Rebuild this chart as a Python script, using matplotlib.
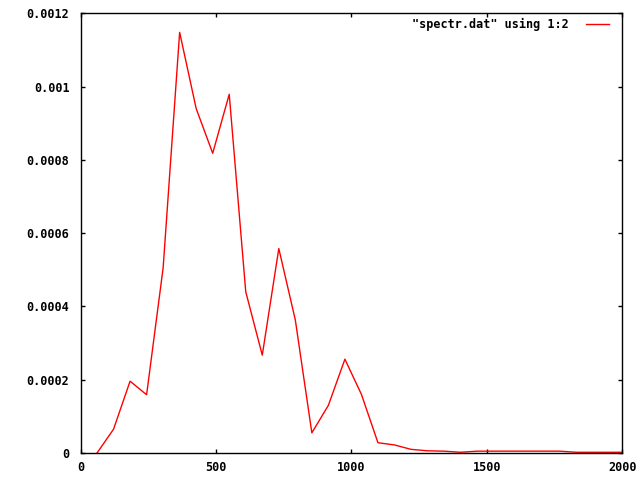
import matplotlib
matplotlib.use("Agg")
import matplotlib.pyplot as plt

# spectrum samples (x step ~61)
freq = [61, 122, 183, 244, 305, 366, 427, 488, 549, 610, 671, 732, 793,
        854, 915, 976, 1037, 1098, 1159, 1220, 1281, 1342, 1403, 1464,
        1525, 1586, 1647, 1708, 1769, 1830, 1891, 1952, 2013]
power = [0.0, 0.000065, 0.000196, 0.000159, 0.000505, 0.001148, 0.00094,
         0.000818, 0.000979, 0.00044, 0.000267, 0.000558, 0.000363,
         0.000055, 0.00013, 0.000256, 0.00016, 0.000028, 0.000022,
         0.00001, 0.000006, 0.000005, 0.000002, 0.000005, 0.000005,
         0.000005, 0.000005, 0.000005, 0.000005, 0.000002, 0.000002,
         0.000002, 0.000002]

x_ticks = [0, 500, 1000, 1500, 2000]
y_ticks = [0, 0.0002, 0.0004, 0.0006, 0.0008, 0.001, 0.0012]
y_tick_labels = ["0", "0.0002", "0.0004", "0.0006", "0.0008", "0.001", "0.0012"]
legend_label = '"spectr.dat" using 1:2'

FONT = {"family": "DejaVu Sans Mono", "weight": "bold", "size": 8.5}

fig = plt.figure(figsize=(6.4, 4.8), dpi=100)
ax = fig.add_axes([80.5 / 640, 27 / 480, (622.3 - 80.5) / 640, (453 - 13.3) / 480])

ax.plot(freq, power, color="#ff0000", linewidth=1.0, label=legend_label)

ax.set_xlim(0, 2000)
ax.set_ylim(0, 0.0012)
ax.set_xticks(x_ticks)
ax.set_xticklabels([str(t) for t in x_ticks], fontdict=FONT)
ax.set_yticks(y_ticks)
ax.set_yticklabels(y_tick_labels, fontdict=FONT)
ax.tick_params(direction="in", length=3, width=1, top=True, right=True,
               colors="black")
ax.tick_params(axis="y", pad=8)
ax.tick_params(axis="x", pad=6)
for spine in ax.spines.values():
    spine.set_linewidth(1)

# legend sits top right, sample line after the text (gnuplot style)
leg = ax.legend(loc="upper right", frameon=False, markerfirst=False,
                prop={"family": "DejaVu Sans Mono", "weight": "bold", "size": 8.5},
                handlelength=1.95, handletextpad=1.5, borderaxespad=0.2,
                bbox_to_anchor=(1 - 6 / 541.8, 1 + 2 / 439.7))

fig.savefig("out.png", dpi=100)
